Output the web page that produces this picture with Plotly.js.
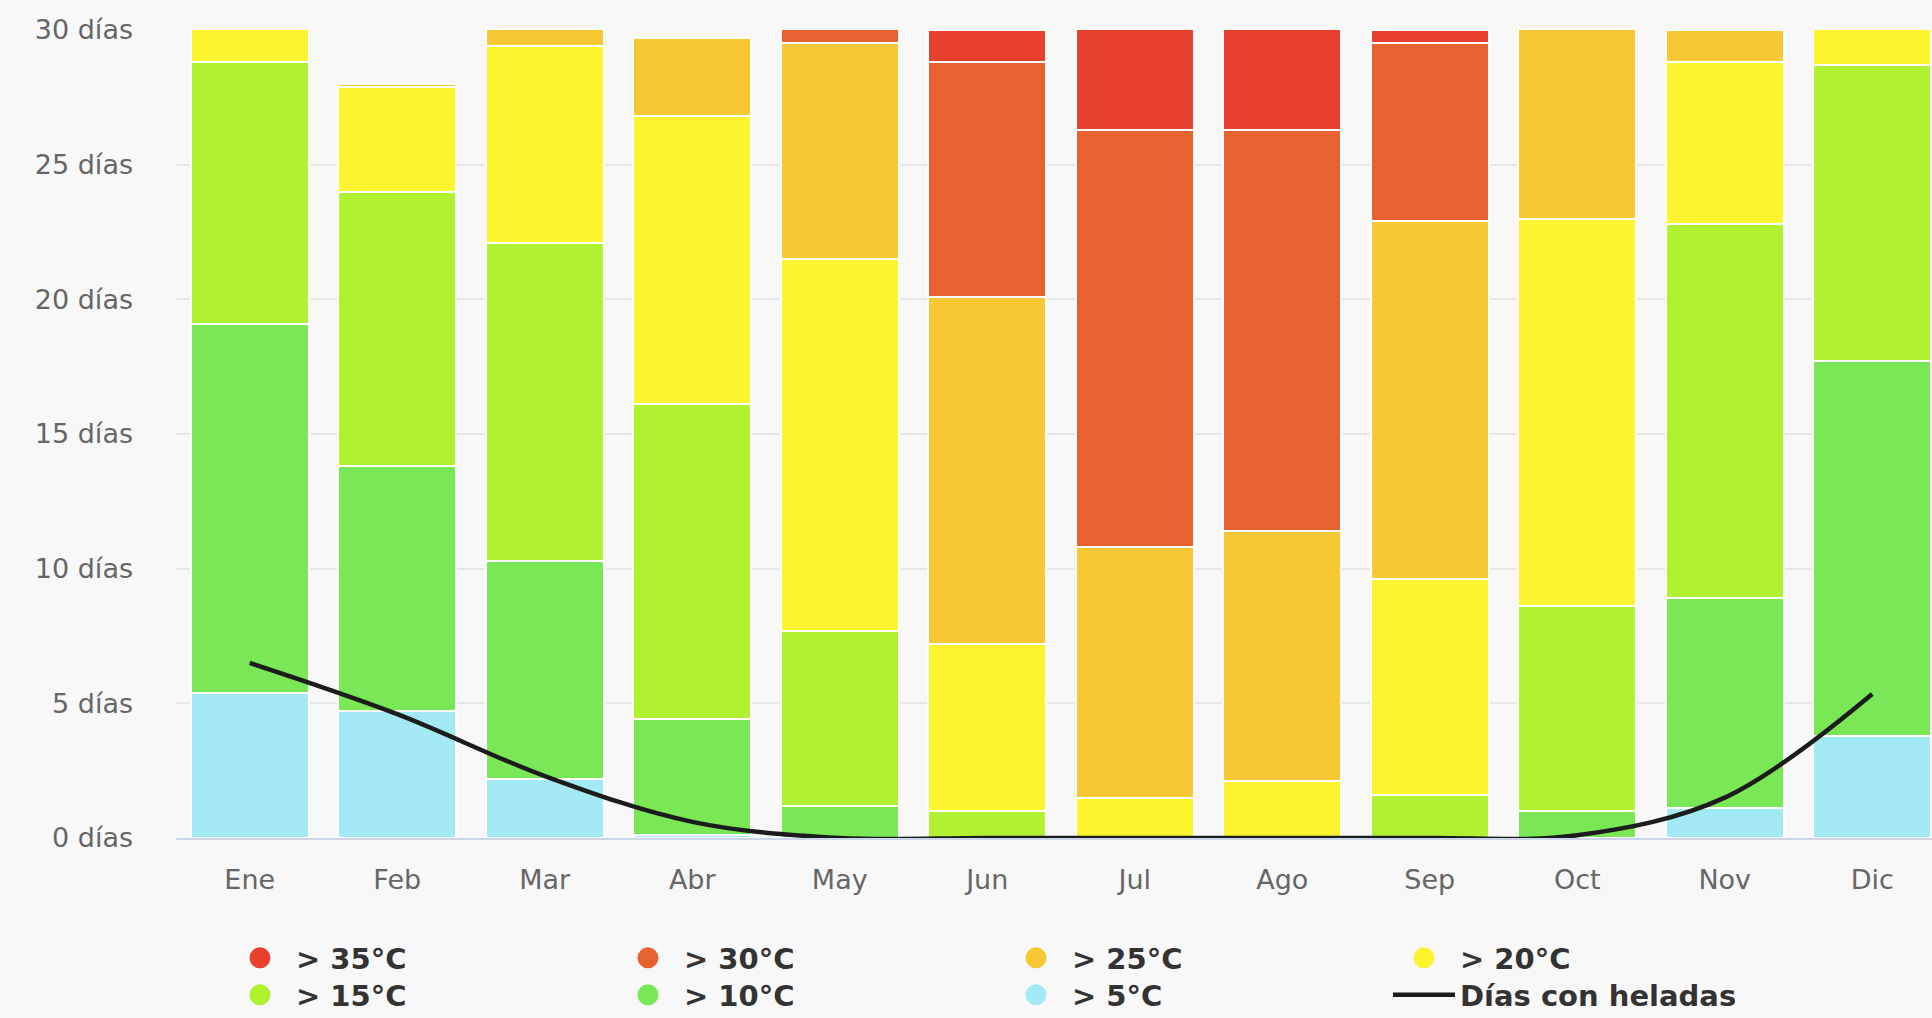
<!DOCTYPE html>
<html>
<head>
<meta charset="utf-8">
<script src="https://cdn.plot.ly/plotly-3.0.1.min.js"></script>
<style>
html, body { margin: 0; padding: 0; overflow: hidden; background: #f8f8f8; }
#chart { width: 1960px; height: 1018px; }
</style>
</head>
<body>
<div id="chart"></div>
<script>
// Categories (months)
var months = ['Ene', 'Feb', 'Mar', 'Abr', 'May', 'Jun', 'Jul', 'Ago', 'Sep', 'Oct', 'Nov', 'Dic'];

// Days per month above each temperature threshold (stacked, bottom to top)
var above5  = [5.4, 4.7, 2.2, 0.1, 0, 0, 0, 0, 0, 0, 1.1, 3.8];
var above10 = [13.7, 9.1, 8.1, 4.3, 1.2, 0, 0, 0, 0, 1.0, 7.8, 13.9];
var above15 = [9.7, 10.2, 11.8, 11.7, 6.5, 1.0, 0, 0, 1.6, 7.6, 13.9, 11.0];
var above20 = [2.2, 3.9, 7.3, 10.7, 13.8, 6.2, 1.5, 2.1, 8.0, 14.4, 6.0, 2.3];
var above25 = [0, 0.1, 1.6, 2.9, 8.0, 12.9, 9.3, 9.3, 13.3, 8.0, 1.2, 0];
var above30 = [0, 0, 0, 0, 1.5, 8.7, 15.5, 14.9, 6.6, 0, 0, 0];
var above35 = [0, 0, 0, 0, 0, 1.2, 4.7, 4.7, 0.5, 0, 0, 0];

// Frost days line
var frostDays = [6.5, 4.6, 2.3, 0.6, 0, 0, 0, 0, 0, 0.1, 1.5, 5.35];

// Series names and axis tick labels
var legendRow1 = ['> 35°C', '> 30°C', '> 25°C', '> 20°C'];
var legendRow2 = ['> 15°C', '> 10°C', '> 5°C'];
var lineName = 'Días con heladas';
var yTickVals = [0, 5, 10, 15, 20, 25, 30];
var yTickText = ['0 días', '5 días', '10 días', '15 días', '20 días', '25 días', '30 días'];

var colors = {
  '> 35°C': '#e8402f',
  '> 30°C': '#e86130',
  '> 25°C': '#f8c734',
  '> 20°C': '#fdf32f',
  '> 15°C': '#b0f232',
  '> 10°C': '#79e756',
  '> 5°C':  '#a3eaf5'
};

var stackBottomUp = [
  ['> 5°C', above5],
  ['> 10°C', above10],
  ['> 15°C', above15],
  ['> 20°C', above20],
  ['> 25°C', above25],
  ['> 30°C', above30],
  ['> 35°C', above35]
];

var traces = [];
stackBottomUp.forEach(function (s) {
  traces.push({
    type: 'bar',
    name: s[0],
    x: months,
    y: s[1],
    legendgroup: s[0],
    showlegend: false,
    marker: { color: colors[s[0]], line: { color: '#ffffff', width: 2 } },
    hovertemplate: '%{x}: %{y} días<extra>' + s[0] + '</extra>'
  });
});

// Legend entries (circle symbols), two rows as in the reference legend
function legendEntry(n, legendId) {
  return {
    type: 'scatter',
    mode: 'markers',
    name: n,
    x: [null],
    y: [null],
    legend: legendId,
    legendgroup: n,
    showlegend: true,
    hoverinfo: 'skip',
    marker: { color: colors[n], size: 16, symbol: 'circle', line: { color: colors[n], width: 5 } }
  };
}
legendRow1.forEach(function (n) { traces.push(legendEntry(n, 'legend')); });
legendRow2.forEach(function (n) { traces.push(legendEntry(n, 'legend2')); });

traces.push({
  type: 'scatter',
  mode: 'lines',
  name: lineName,
  legend: 'legend2',
  x: months,
  y: frostDays,
  line: { color: '#1c1c1c', width: 4.5, shape: 'spline', smoothing: 1 },
  hovertemplate: '%{x}: %{y} días<extra>' + lineName + '</extra>'
});

var legendFont = { family: 'DejaVu Sans, sans-serif', size: 29, color: '#333333', weight: 'bold' };
function legendBox(yCenter) {
  return {
    orientation: 'h',
    x: 0.0271,
    xanchor: 'left',
    y: yCenter,
    yanchor: 'middle',
    bgcolor: 'rgba(0,0,0,0)',
    itemwidth: 62,
    entrywidth: 311,
    entrywidthmode: 'pixels',
    font: legendFont
  };
}

var layout = {
  width: 1960,
  height: 1018,
  paper_bgcolor: '#f8f8f8',
  plot_bgcolor: '#f8f8f8',
  barmode: 'stack',
  bargap: 0.2,
  margin: { l: 176, r: 14, t: 30, b: 180, autoexpand: false },
  font: { family: 'DejaVu Sans, sans-serif', color: '#666666' },
  xaxis: {
    type: 'category',
    categoryorder: 'array',
    categoryarray: months,
    showline: true,
    linecolor: '#ccd6eb',
    linewidth: 2,
    showgrid: false,
    ticks: '',
    ticklabelstandoff: 17,
    tickfont: { family: 'DejaVu Sans, sans-serif', size: 27, color: '#666666' },
    fixedrange: true
  },
  yaxis: {
    range: [0, 30],
    tickvals: yTickVals,
    ticktext: yTickText,
    showgrid: true,
    gridcolor: '#e6e6e6',
    gridwidth: 2,
    zeroline: false,
    showline: false,
    ticks: '',
    ticklabelstandoff: 42,
    tickfont: { family: 'DejaVu Sans, sans-serif', size: 27, color: '#666666' },
    fixedrange: true
  },
  legend: legendBox(-0.1485),
  legend2: legendBox(-0.1943),
  showlegend: true
};

Plotly.newPlot('chart', traces, layout, { displayModeBar: false });
</script>
</body>
</html>
